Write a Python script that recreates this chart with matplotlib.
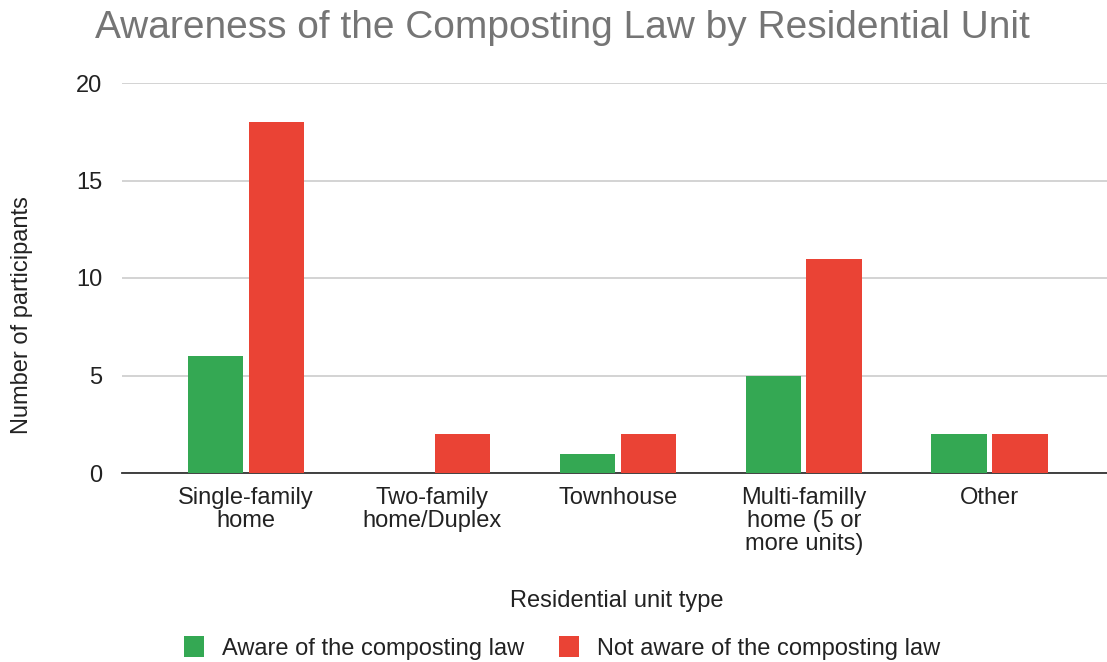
import matplotlib
matplotlib.use("Agg")
import matplotlib.pyplot as plt
import numpy as np

categories = ["Single-family\nhome", "Two-family\nhome/Duplex", "Townhouse",
              "Multi-familly\nhome (5 or\nmore units)", "Other"]
aware = [6, 0, 1, 5, 2]
not_aware = [18, 2, 2, 11, 2]
series_names = ["Aware of the composting law", "Not aware of the composting law"]
yticks = [0, 5, 10, 15, 20]

GREEN = "#34A853"
RED = "#EA4335"

plt.rcParams['font.family'] = ['Liberation Sans', 'DejaVu Sans']

fig = plt.figure(figsize=(11.07, 6.62), dpi=100)
ax = fig.add_axes([122/1107, 1 - 473/662, 1 - 122/1107, (473 - 83)/662])

x = np.arange(len(categories))
w = 0.30
ax.bar(x - 0.164, aware, width=w, color=GREEN, label=series_names[0], zorder=3)
ax.bar(x + 0.164, not_aware, width=w, color=RED, label=series_names[1], zorder=3)

ax.set_xlim(-0.667, 4.63)
ax.set_ylim(0, 20)
ax.set_yticks(yticks)
ax.yaxis.grid(True, color="#cccccc", linewidth=1.2, zorder=0)
ax.set_axisbelow(True)
for s in ["top", "right", "left"]:
    ax.spines[s].set_visible(False)
ax.spines["bottom"].set_color("#333333")
ax.spines["bottom"].set_linewidth(1.3)
ax.tick_params(axis="both", length=0, labelsize=17, colors="#222222")
ax.tick_params(axis="x", pad=10)
ax.tick_params(axis="y", pad=14)
ax.set_xticks(x)
ax.set_xticklabels(categories, linespacing=1.05)

ax.set_xlabel("Residential unit type", fontsize=17, color="#222222")
ax.xaxis.set_label_coords((617 - 122) / (1107 - 122), -(601 - 473) / (473 - 83))
ax.xaxis.label.set_va("center")
ax.set_ylabel("Number of participants", fontsize=17, color="#222222")
ax.yaxis.set_label_coords(-(122 - 22) / (1107 - 122), (473 - 315) / (473 - 83))
ax.yaxis.label.set_va("center")

fig.text(562/1107, 1 - 28/662, "Awareness of the Composting Law by Residential Unit",
         ha="center", va="center", fontsize=28, color="#757575")

fig.legend(loc="center", bbox_to_anchor=(562/1107, 1 - 648/662), ncol=2, frameon=False,
           fontsize=17, handlelength=0.85, handleheight=1.0, handletextpad=0.75,
           columnspacing=1.5, labelcolor="#222222")

fig.savefig("out.png", dpi=100)
